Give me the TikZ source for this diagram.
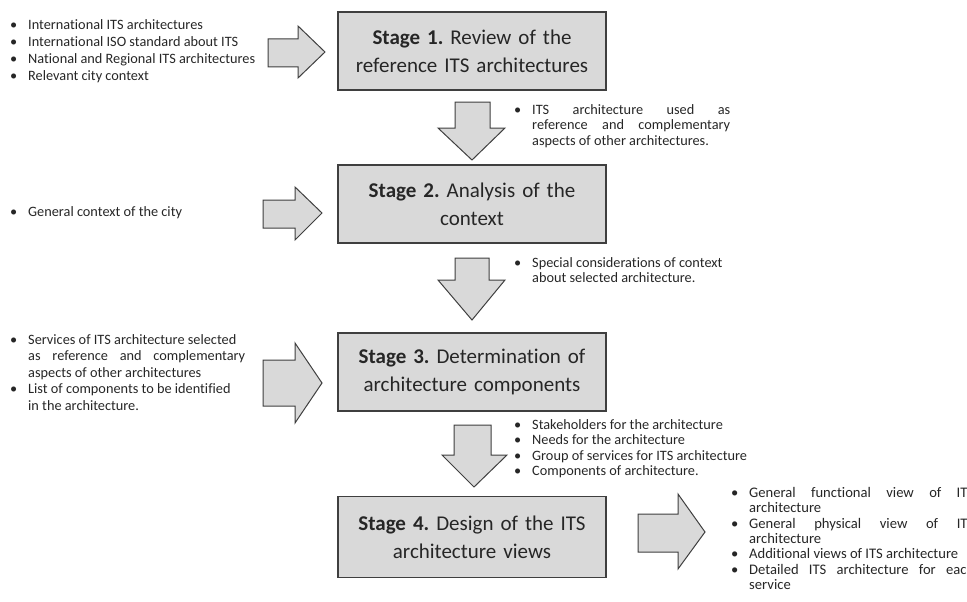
\documentclass[tikz,border=0pt]{standalone}
\usepackage{fontspec}
\setmainfont{Carlito}[Ligatures=NoCommon]
\usetikzlibrary{positioning}
\definecolor{boxgrey}{HTML}{D9D9D9}
\definecolor{edgegrey}{HTML}{3F3F3F}
\definecolor{txtgrey}{HTML}{262626}
\newcommand{\bul}{\makebox[18pt][l]{\textbullet}}
\newcommand{\ind}{\hspace*{18pt}}
\frenchspacing

\begin{document}
\begin{tikzpicture}[x=1pt,y=-1pt,
    stagebox/.style={draw=edgegrey,fill=boxgrey,line width=1.3pt,
      minimum width=268pt,minimum height=78pt,text width=250pt,
      align=center,font=\fontsize{21}{28}\selectfont,text=txtgrey},
    blockarrow/.style={draw=edgegrey,fill=boxgrey,line width=1pt,line join=miter},
    notes/.style={anchor=north west,inner sep=0pt,align=left,
      font=\fontsize{14.3}{15.5}\selectfont,text=txtgrey},
    widenotes/.style={notes,font=\fontsize{14.3}{17}\selectfont},
    viewnotes/.style={notes,font=\fontsize{14.6}{15.4}\selectfont}]

      \useasboundingbox (0,0) rectangle (967,602);

      % stages
      \node[stagebox] (s1) at (472,51)  {\textbf{Stage 1.} Review of the\\reference ITS architectures};
      \node[stagebox] (s2) at (472,204) {\textbf{Stage 2.} Analysis of the\\context};
      \node[stagebox] (s3) at (472,372) {\textbf{Stage 3.} Determination of\\architecture components};
      \node[stagebox,minimum height=81pt] (s4) at (472,537) {\textbf{Stage 4.} Design of the ITS\\architecture views};

      % inputs on the left
      \node[widenotes] (in1) at (10,19) {\bul International ITS architectures\\
        \bul International ISO standard about ITS\\
        \bul National and Regional ITS architectures\\
        \bul Relevant city context};
      \node[notes] (in2) at (10,206) {\bul General context of the city};
      \node[widenotes,font=\fontsize{14.3}{16.5}\selectfont] (in3) at (10,334) {\bul Services of ITS architecture selected\\
        \ind\makebox[217pt][s]{as reference and complementary}\\
        \ind aspects of other architectures\\
        \bul List of components to be identified\\
        \ind in the architecture.};

      % outputs on the right
      \node[notes] (out1) at (514,104) {\bul\makebox[198pt][s]{ITS architecture used as}\\
        \ind\makebox[198pt][s]{reference and complementary}\\
        \ind aspects of other architectures.};
      \node[notes] (out2) at (514,257) {\bul Special considerations of context\\
        \ind about selected architecture.};
      \node[notes] (out3) at (514,419) {\bul Stakeholders for the architecture\\
        \bul Needs for the architecture\\
        \bul Group of services for ITS architecture\\
        \bul Components of architecture.};
      \node[viewnotes] (out4) at (731,487) {\bul\makebox[225pt][s]{General functional view of ITS}\\
        \ind architecture\\
        \bul\makebox[225pt][s]{General physical view of ITS}\\
        \ind architecture\\
        \bul Additional views of ITS architecture\\
        \bul\makebox[225pt][s]{Detailed ITS architecture for each}\\
        \ind service};

      % block arrows
      \draw[blockarrow] (268,39) -- (298,39) -- (298,26) -- (325,52) -- (298,78) -- (298,67) -- (268,67) -- cycle;
      \draw[blockarrow] (263,200) -- (295,200) -- (295,187) -- (322,213) -- (295,240) -- (295,228) -- (263,228) -- cycle;
      \draw[blockarrow] (263,360) -- (295,360) -- (295,343) -- (322,383) -- (295,423) -- (295,406) -- (263,406) -- cycle;
      \draw[blockarrow] (638,514) -- (678,514) -- (678,494) -- (705,532) -- (678,569) -- (678,552) -- (638,552) -- cycle;

      \draw[blockarrow] (455,102) -- (490,102) -- (490,128) -- (505,128) -- (472,160) -- (438,128) -- (455,128) -- cycle;
      \draw[blockarrow] (455,258) -- (489,258) -- (489,280) -- (505,280) -- (472,320) -- (438,280) -- (455,280) -- cycle;
      \draw[blockarrow] (454,425) -- (491,425) -- (491,455) -- (507,455) -- (474,487) -- (442,455) -- (454,455) -- cycle;

    \end{tikzpicture}
\end{document}
